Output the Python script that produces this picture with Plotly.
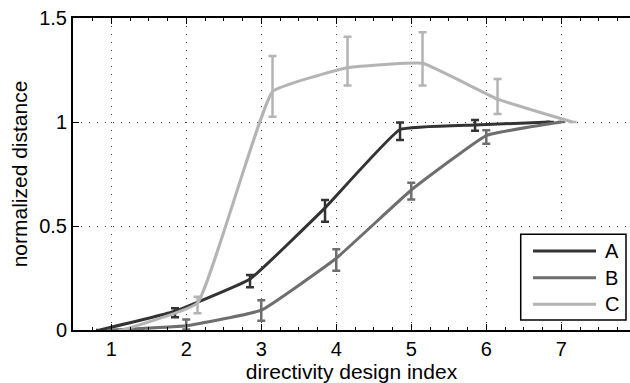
import plotly.graph_objects as go

# ---- data ----
design_index = [1, 2, 3, 4, 5, 6, 7]
tick_labels = ["1", "2", "3", "4", "5", "6", "7"]
y_ticks = [0, 0.5, 1, 1.5]
y_tick_labels = ["0", "0.5", "1", "1.5"]

series_names = ["A", "B", "C"]
series_offsets = [-0.15, 0.0, 0.15]

a_mean = [0.0, 0.09, 0.245, 0.587, 0.964, 0.986, 1.0]
a_up = [0.0, 0.014, 0.02, 0.038, 0.033, 0.024, 0.0]
a_down = [0.0, 0.029, 0.04, 0.066, 0.051, 0.028, 0.0]

b_mean = [0.0, 0.02, 0.095, 0.345, 0.673, 0.935, 1.0]
b_up = [0.0, 0.03, 0.048, 0.043, 0.035, 0.025, 0.0]
b_down = [0.0, 0.017, 0.05, 0.06, 0.045, 0.04, 0.0]

c_mean = [0.0, 0.13, 1.146, 1.261, 1.282, 1.11, 1.0]
c_up = [0.0, 0.03, 0.171, 0.149, 0.149, 0.097, 0.0]
c_down = [0.0, 0.05, 0.121, 0.086, 0.107, 0.072, 0.0]

colors = ["#333333", "#6e6e6e", "#b4b4b4"]

means = [a_mean, b_mean, c_mean]
ups = [a_up, b_up, c_up]
downs = [a_down, b_down, c_down]

FONT = "Liberation Sans, Arial, sans-serif"

fig = go.Figure()
for name, off, m, u, d, col in zip(series_names, series_offsets, means, ups, downs, colors):
    fig.add_trace(go.Scatter(
        x=[i + off for i in design_index],
        y=m,
        name=name,
        mode="lines",
        line=dict(color=col, width=3, shape="spline", smoothing=0.3),
        error_y=dict(type="data", symmetric=False, array=u, arrayminus=d,
                     color=col, thickness=2.5, width=4),
        showlegend=False,
    ))

# ---- legend box drawn in paper coordinates ----
leg_x0, leg_x1, leg_y0, leg_y1 = 0.8038, 0.9928, 0.032, 0.3067
leg_line_x0, leg_line_x1, leg_text_x = 0.8259, 0.9390, 0.9521
leg_rows = [0.2532, 0.1676, 0.0824]

shapes = [dict(type="rect", xref="paper", yref="paper",
               x0=leg_x0, x1=leg_x1, y0=leg_y0, y1=leg_y1,
               line=dict(color="black", width=1.5), fillcolor="white", layer="above")]
annotations = []
for name, col, ry in zip(series_names, colors, leg_rows):
    shapes.append(dict(type="line", xref="paper", yref="paper",
                       x0=leg_line_x0, x1=leg_line_x1, y0=ry, y1=ry,
                       line=dict(color=col, width=3), layer="above"))
    annotations.append(dict(xref="paper", yref="paper", x=leg_text_x, y=ry,
                            text=name, showarrow=False, xanchor="left", yanchor="middle",
                            font=dict(family=FONT, size=20, color="black")))

fig.update_layout(
    width=630, height=383,
    margin=dict(l=73, r=0, t=18, b=53, autoexpand=False),
    paper_bgcolor="white", plot_bgcolor="white",
    font=dict(family=FONT, size=20, color="black"),
    showlegend=False,
    shapes=shapes,
    annotations=annotations,
)

fig.update_xaxes(
    range=[0.49, 7.916], automargin=False,
    tickvals=design_index, ticktext=tick_labels,
    ticks="inside", ticklen=6, tickwidth=1, tickcolor="black",
    minor=dict(ticks="inside", dtick=0.25, ticklen=3, tickcolor="black", showgrid=False),
    showline=True, linecolor="black", linewidth=2, mirror="ticks",
    showgrid=True, gridcolor="#444444", gridwidth=1, griddash="1px,7px",
    zeroline=False,
    title=dict(text="directivity design index", standoff=2, font=dict(size=21)),
)
fig.update_yaxes(
    range=[0, 1.5], automargin=False,
    tickvals=y_ticks, ticktext=y_tick_labels,
    ticks="inside", ticklen=6, tickwidth=1, tickcolor="black",
    showline=True, linecolor="black", linewidth=2, mirror=False,
    showgrid=True, gridcolor="#444444", gridwidth=1, griddash="1px,7px",
    zeroline=False,
    title=dict(text="normalized distance", standoff=6, font=dict(size=21)),
)

fig.write_html("out.html", config={"displayModeBar": False},
               post_script="document.body.style.margin='0';")
